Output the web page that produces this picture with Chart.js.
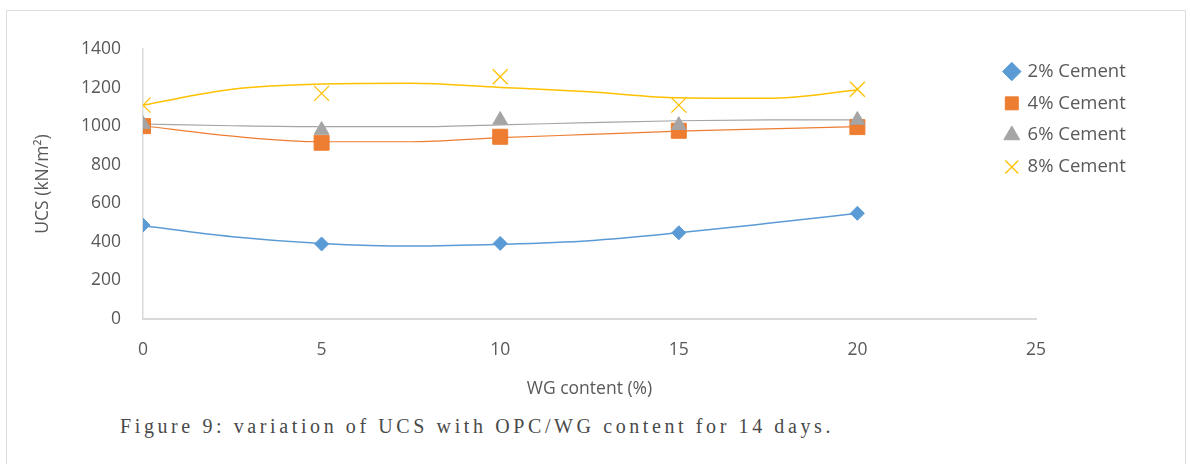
<!DOCTYPE html>
<html>
<head>
<meta charset="utf-8">
<script src="https://cdn.jsdelivr.net/npm/chart.js@4.4.1/dist/chart.umd.min.js"></script>
<style>
    body { margin: 0; background: #fff; }
    #frame {
        position: absolute; left: 6px; top: 10px; width: 1180px; height: 470px;
        border: 1.5px solid #dedede; box-sizing: border-box;
    }
    #chartBox { position: absolute; left: 0; top: 0; }
    #caption {
        position: absolute; left: 120px; top: 415px;
        font-family: "Liberation Serif", serif; font-size: 20px;
        letter-spacing: 3.6px; color: #4a4a4a; white-space: nowrap;
    }
</style>
</head>
<body>
<div id="frame"></div>
<div id="chartBox"><canvas id="ucsCanvas" width="1190" height="410"></canvas></div>
<div id="caption">Figure 9: variation of UCS with OPC/WG content for 14 days.</div>
<script>
// measured points
const wgContent = [0, 5, 10, 15, 20];
const cement2 = [487, 389, 392, 447, 548];
const cement4 = [1000, 914, 945, 976, 995];
const cement6 = [1010, 980, 1032, 1005, 1032];
const cement8 = [1109, 1170, 1256, 1109, 1191];

// trendlines
const trendX = [0, 2.5, 5, 7.5, 10, 12.5, 15, 17.5, 20];
const trend2 = [484, 427, 392, 378, 387, 406, 447, 496, 548];
const trend4 = [1002, 948, 919, 919, 940, 957, 974, 986, 997];
const trend6 = [1011, 1002, 997, 997, 1007, 1018, 1028, 1032, 1032];
const trend8 = [1109, 1191, 1218, 1222, 1201, 1178, 1147, 1144, 1187];

const seriesNames = ['2% Cement', '4% Cement', '6% Cement', '8% Cement'];
const yTicks = [0, 200, 400, 600, 800, 1000, 1200, 1400];
const xTicks = [0, 5, 10, 15, 20, 25];

const textColor = '#595959';
const fontFamily = '"Open Sans", sans-serif';

function toPoints(xs, ys) {
    return xs.map((x, i) => ({ x: x, y: ys[i] }));
}

function markerSet(label, values, style, color, radius, order) {
    return {
        label: label,
        data: toPoints(wgContent, values),
        showLine: false,
        pointStyle: style,
        pointRadius: radius,
        backgroundColor: color,
        borderColor: color,
        borderWidth: style === 'crossRot' ? 1.3 : 1,
        order: order
    };
}

function trendSet(values, color, width) {
    return {
        label: 'trend',
        data: toPoints(trendX, values),
        showLine: true,
        pointRadius: 0,
        borderColor: color,
        borderWidth: width,
        cubicInterpolationMode: 'monotone',
        fill: false,
        order: 10
    };
}

// move the legend over the empty right part of the plot, like the original
const legendShift = {
    id: 'legendShift',
    afterLayout(chart) {
        chart.legend.left = chart.chartArea.right - 44;
    }
};

const ctx = document.getElementById('ucsCanvas').getContext('2d');

new Chart(ctx, {
    type: 'scatter',
    data: {
        datasets: [
            markerSet(seriesNames[0], cement2, 'rectRot', '#5B9BD5', 7, 3),
            markerSet(seriesNames[1], cement4, 'rect', '#ED7D31', 10.6, 2),
            markerSet(seriesNames[2], cement6, 'triangle', '#A5A5A5', 8.5, 1),
            markerSet(seriesNames[3], cement8, 'crossRot', '#FFC000', 10.6, 0),
            trendSet(trend2, '#5B9BD5', 1.5),
            trendSet(trend4, '#ED7D31', 1.2),
            trendSet(trend6, '#A5A5A5', 1.2),
            trendSet(trend8, '#FFC000', 1.5)
        ]
    },
    options: {
        responsive: false,
        animation: false,
        layout: { padding: { top: 49, left: 0, right: 34, bottom: 0 } },
        plugins: {
            tooltip: { enabled: false },
            legend: {
                position: 'right',
                align: 'start',
                maxWidth: 120,
                labels: {
                    usePointStyle: true,
                    boxWidth: 13,
                    boxHeight: 13,
                    padding: 13.3,
                    color: textColor,
                    font: { family: fontFamily, size: 18.5 },
                    filter: item => item.text !== 'trend',
                    sort: (a, b) => a.datasetIndex - b.datasetIndex
                }
            }
        },
        scales: {
            x: {
                type: 'linear',
                min: 0,
                max: 25,
                afterFit: scale => { scale.height = 91; },
                afterBuildTicks: scale => { scale.ticks = xTicks.map(v => ({ value: v })); },
                grid: { display: false, drawTicks: false },
                border: { color: '#d9d9d9', width: 2 },
                ticks: {
                    color: textColor, padding: 21,
                    font: { family: fontFamily, size: 17.5 },
                    callback: v => String(v)
                },
                title: {
                    display: true,
                    text: 'WG content (%)',
                    color: textColor,
                    padding: { top: 0, bottom: 10 },
                    font: { family: fontFamily, size: 17.5 }
                }
            },
            y: {
                min: 0,
                max: 1400,
                afterFit: scale => { scale.width = 143; },
                afterBuildTicks: scale => { scale.ticks = yTicks.map(v => ({ value: v })); },
                grid: { display: false, drawTicks: false },
                border: { color: '#d9d9d9', width: 1.5 },
                ticks: {
                    color: textColor, padding: 22,
                    font: { family: fontFamily, size: 17.5 },
                    callback: v => String(v)
                },
                title: {
                    display: true,
                    text: 'UCS (kN/m²)',
                    color: textColor,
                    padding: { top: 33, bottom: 0 },
                    font: { family: fontFamily, size: 17.5 }
                }
            }
        }
    },
    plugins: [legendShift]
});
</script>
</body>
</html>
